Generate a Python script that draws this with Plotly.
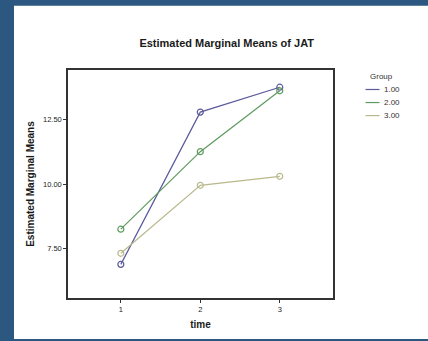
import plotly.graph_objects as go

times = [1, 2, 3]
groups = ["1.00", "2.00", "3.00"]
group1 = [6.87, 12.80, 13.77]
group2 = [8.24, 11.26, 13.63]
group3 = [7.30, 9.95, 10.30]
series = [group1, group2, group3]
colors = ["#5b5a9c", "#5e9a5e", "#b9b98e"]
y_ticks = [7.5, 10.0, 12.5]
y_tick_labels = ["7.50", "10.00", "12.50"]

FONT = "Liberation Sans, Arial, sans-serif"

W, H = 428, 341
L, R, T, B = 68, 95, 70, 37
pw = W - L - R
ph = H - T - B


def px(xp):
    return (xp - L) / pw


def py(yp):
    return (H - B - yp) / ph


fig = go.Figure()
for name, vals, col in zip(groups, series, colors):
    fig.add_trace(go.Scatter(
        x=times, y=vals, mode="lines+markers", name=name, showlegend=False,
        line=dict(color=col, width=1.2),
        marker=dict(symbol="circle-open", size=6, color=col, line=dict(width=1.2)),
    ))

# white page area (dark blue frame strips at left and top)
fig.add_shape(type="rect", xref="paper", yref="paper", layer="below",
              x0=px(14), x1=px(W + 5), y0=py(H + 5), y1=py(4),
              fillcolor="white", line=dict(width=0))

# compact legend, as in the reference
fig.add_annotation(text="Group", xref="paper", yref="paper", x=px(381), y=py(77),
                   xanchor="center", yanchor="middle", showarrow=False,
                   font=dict(size=8, color="#333"))
for i, (name, col) in enumerate(zip(groups, colors)):
    yy = 90 + i * 13.4
    fig.add_shape(type="line", xref="paper", yref="paper",
                  x0=px(365.5), x1=px(379.5), y0=py(yy), y1=py(yy),
                  line=dict(color=col, width=1.2))
    fig.add_annotation(text=name, xref="paper", yref="paper", x=px(381.5), y=py(yy),
                       xanchor="left", yanchor="middle", showarrow=False,
                       font=dict(size=8, color="#333"))

fig.update_layout(
    width=W, height=H,
    margin=dict(l=L, r=R, t=T, b=B, pad=0),
    paper_bgcolor="#2b5780",
    plot_bgcolor="white",
    showlegend=False,
    title=dict(text="<b>Estimated Marginal Means of JAT</b>", x=226.7 / W, xanchor="center",
               y=1 - 42.7 / H, yanchor="middle",
               font=dict(family=FONT, size=11, color="#1a1a1a")),
    font=dict(family=FONT, color="#1a1a1a"),
    xaxis=dict(
        range=[0.335, 3.67], tickvals=times, ticktext=[str(t) for t in times],
        showgrid=False, zeroline=False, showline=True, mirror=True,
        linecolor="#333", linewidth=1.5, ticks="outside", ticklen=3, tickcolor="#333",
        tickfont=dict(size=7.5, color="#222"),
        title=dict(text="<b>time</b>", font=dict(size=10, color="#1a1a1a"), standoff=8),
    ),
    yaxis=dict(
        range=[5.56, 14.44], tickvals=y_ticks, ticktext=y_tick_labels,
        showgrid=False, zeroline=False, showline=True, mirror=True,
        linecolor="#333", linewidth=1.5, ticks="outside", ticklen=3, tickcolor="#333",
        tickfont=dict(size=7.5, color="#222"),
        title=dict(text="<b>Estimated Marginal Means</b>", font=dict(size=10, color="#1a1a1a"), standoff=6),
    ),
)

fig.write_html("out.html", config={"displayModeBar": False},
               post_script="document.body.style.margin='0';")
